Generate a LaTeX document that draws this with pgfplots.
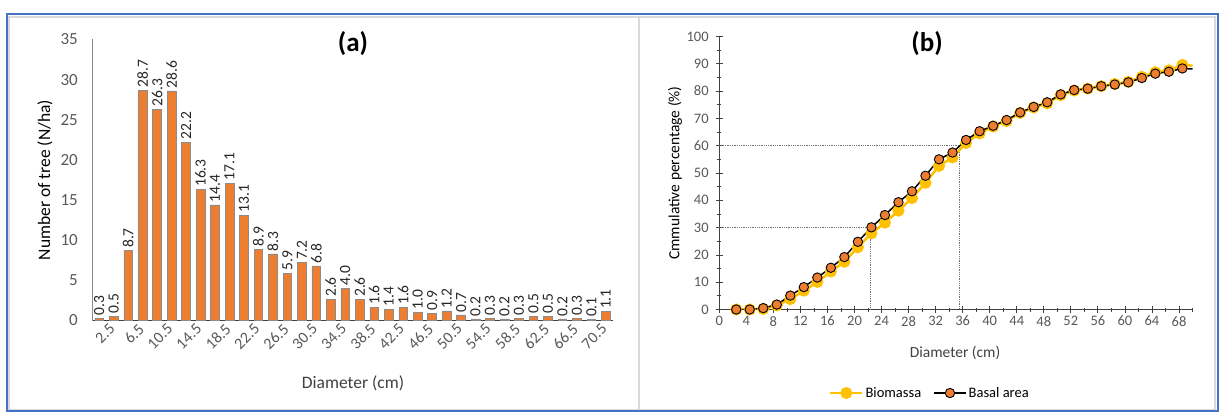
\documentclass[border=0pt]{standalone}
\usepackage{pgfplots}
\pgfplotsset{compat=1.18}
\usepackage{fontspec}
\setmainfont{Carlito}
\definecolor{barorange}{HTML}{ED7D31}
\definecolor{bioyellow}{HTML}{FFC000}
\definecolor{tickgray}{HTML}{595959}
\definecolor{labgray}{HTML}{404040}
\definecolor{bordblue}{HTML}{4472C4}
\newcommand{\fs}[1]{\fontsize{#1bp}{#1bp}\selectfont}
\begin{document}
\begin{tikzpicture}[x=1bp,y=1bp]
\path[use as bounding box] (0,0) rectangle (1219,415);
\draw[line width=1.5bp, black!15] (9,5) rectangle (1215,398);
\draw[line width=2bp, bordblue] (6.5,4) rectangle (1217.5,401);
\draw[black!15, line width=1.5bp] (639,5) -- (639,397);

% ---------------- panel (a)
\begin{axis}[
  at={(92bp,94.5bp)}, anchor=south west,
  scale only axis, width=521bp, height=281bp,
  xmin=-0.5, xmax=35.5, ymin=0, ymax=35,
  axis lines=left,
  x axis line style={-, black!75, line width=1bp},
  y axis line style={-, black!45, line width=1bp},
  major tick length=0pt,
  ytick={0,5,...,35},
  xtick={0,2,...,34},
  xticklabels={2.5,6.5,10.5,14.5,18.5,22.5,26.5,30.5,34.5,38.5,42.5,46.5,50.5,54.5,58.5,62.5,66.5,70.5},
  /pgf/number format/assume math mode=true,
  yticklabel style={font=\fs{17}, text=tickgray, anchor=east, inner sep=0pt, xshift=-14bp},
  xticklabel style={font=\fs{16}, text=tickgray, rotate=45, anchor=north east, inner sep=0pt, xshift=5bp, yshift=-8bp},
  clip=false,
]
\addplot[ybar, fill=barorange, draw=black!45, line width=0.6bp, bar width=8.7bp,
  nodes near coords={\pgfmathprintnumber[fixed,fixed zerofill,precision=1]{\pgfplotspointmeta}},
  every node near coord/.append style={rotate=90, anchor=west, inner xsep=2.5bp, inner ysep=0pt, font=\fs{15.5}, text=black!85}]
coordinates {
(0,0.3)(1,0.5)(2,8.7)(3,28.7)(4,26.3)(5,28.6)(6,22.2)(7,16.3)(8,14.4)(9,17.1)
(10,13.1)(11,8.9)(12,8.3)(13,5.9)(14,7.2)(15,6.8)(16,2.6)(17,4.0)(18,2.6)(19,1.6)
(20,1.4)(21,1.6)(22,1.0)(23,0.9)(24,1.2)(25,0.7)(26,0.2)(27,0.3)(28,0.2)(29,0.3)
(30,0.5)(31,0.5)(32,0.2)(33,0.3)(34,0.1)(35,1.1)};
\end{axis}
\node[font=\fs{27}\bfseries] at (353,371) {(a)};
\node[font=\fs{17.5}, rotate=90, text=black] at (45,235) {Number of tree (N/ha)};
\node[font=\fs{17.5}, text=labgray] at (353,32) {Diameter (cm)};

% ---------------- panel (b)
\begin{axis}[
  at={(719.3bp,105.5bp)}, anchor=south west,
  scale only axis, width=473.2bp, height=273bp,
  xmin=0, xmax=70, ymin=0, ymax=100,
  axis lines=left,
  axis line style={-, black!75, line width=1bp},
  tick style={black!75, line width=0.8bp},
  tick align=center,
  major tick length=7bp, minor tick length=4bp,
  xtick={0,4,...,68}, minor xtick={2,6,...,70},
  ytick={0,10,...,100}, minor ytick={5,15,...,95},
  /pgf/number format/assume math mode=true,
  yticklabel style={font=\fs{14.5}, text=tickgray, anchor=east, inner sep=0pt, xshift=-7bp},
  xticklabel style={font=\fs{14.5}, text=tickgray, anchor=north, inner sep=0pt, yshift=-3bp},
  legend style={at={(0.445,-0.306)}, anchor=center, draw=none, fill=none,
    legend columns=2, font=\fs{14.5}, inner sep=0pt,
    /tikz/every even column/.append style={column sep=10bp}},
  legend cell align=left,
  legend image code/.code={%
    \draw[mark repeat=2,mark phase=2,#1] plot coordinates {(0bp,0bp)(16bp,0bp)(32bp,0bp)};},
]
\addplot[black!55, densely dotted, line width=0.8bp, forget plot] coordinates {(0,60)(35.5,60)(35.5,0)};
\addplot[black!55, densely dotted, line width=0.8bp, forget plot] coordinates {(0,30)(22.3,30)(22.3,0)};
\addplot[bioyellow, line width=2.5bp, mark=*, mark size=4.7bp, mark options={fill=bioyellow, draw=bioyellow}]
coordinates {
(2.5,0)(4.5,0)(6.5,0.2)(8.5,1.5)(10.5,3.8)(12.5,6.9)(14.5,10.1)(16.5,13.9)(18.5,17.5)(20.5,22.8)
(22.5,27.9)(24.5,31.8)(26.5,36.2)(28.5,40.8)(30.5,46.4)(32.5,52.6)(34.5,55.7)(36.5,61.0)(38.5,64.5)(40.5,67.0)
(42.5,69.0)(44.5,72.0)(46.5,74.0)(48.5,75.5)(50.5,78.5)(52.5,80.2)(54.5,80.9)(56.5,81.8)(58.5,82.6)(60.5,83.4)
(62.5,85.2)(64.5,86.9)(66.5,87.6)(68.5,89.6)};
\addlegendentry{Biomassa}
\addplot[bioyellow, line width=2.5bp, forget plot] coordinates {(68.5,89.6)(70,89.3)};
\addplot[black, line width=1.5bp, mark=*, mark size=4.7bp, mark options={fill=barorange, draw=black, line width=0.9bp}]
coordinates {
(2.5,0)(4.5,0)(6.5,0.5)(8.5,1.8)(10.5,5.1)(12.5,8.2)(14.5,11.7)(16.5,15.3)(18.5,19.2)(20.5,24.8)
(22.5,30.1)(24.5,34.6)(26.5,39.3)(28.5,43.3)(30.5,49.0)(32.5,55.0)(34.5,57.5)(36.5,62.1)(38.5,65.3)(40.5,67.3)
(42.5,69.4)(44.5,72.2)(46.5,74.2)(48.5,75.9)(50.5,78.8)(52.5,80.4)(54.5,80.9)(56.5,81.8)(58.5,82.4)(60.5,83.2)
(62.5,84.8)(64.5,86.4)(66.5,87.1)(68.5,88.3)};
\addlegendentry{Basal area}
\addplot[black, line width=1.5bp, forget plot] coordinates {(68.5,88.3)(70,88.1)};
\end{axis}
\node[font=\fs{27}\bfseries] at (927,371) {(b)};
\node[font=\fs{15.5}, rotate=90, text=black] at (675,242) {Cmmulative percentage (\%)};
\node[font=\fs{15.5}, text=labgray] at (955,62) {Diameter (cm)};
\end{tikzpicture}
\end{document}
